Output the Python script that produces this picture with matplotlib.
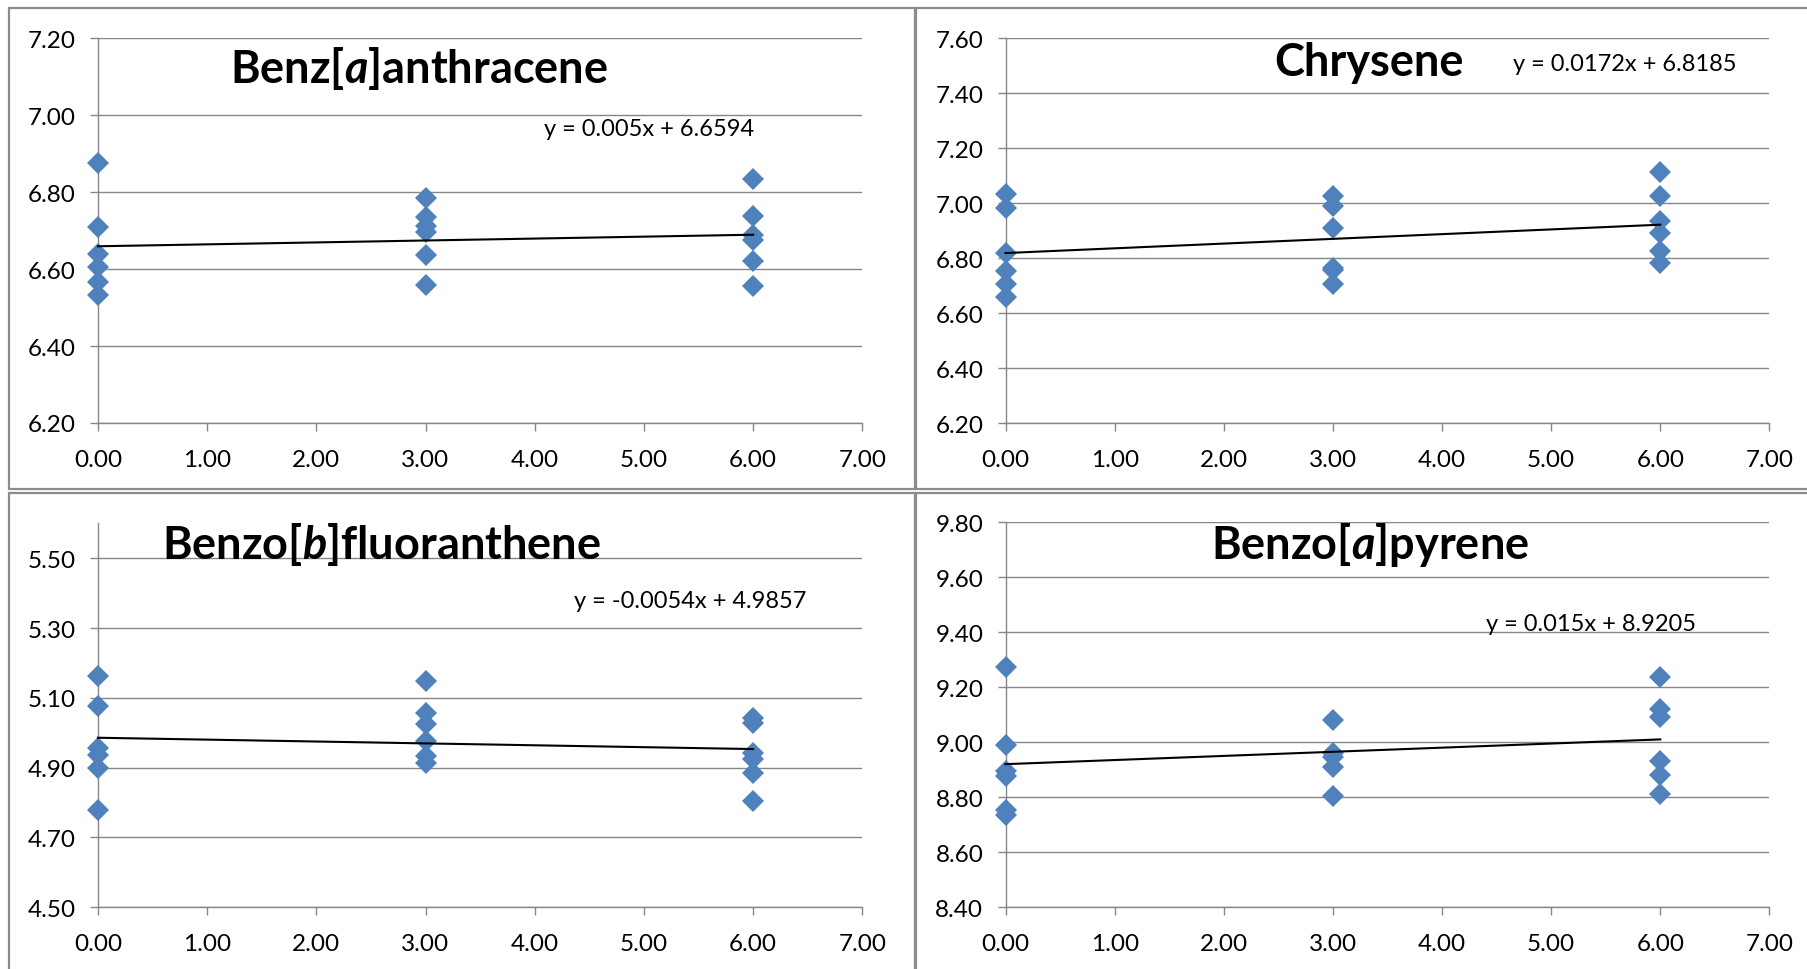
import matplotlib
matplotlib.use('Agg')
import matplotlib.pyplot as plt
from matplotlib.patches import Rectangle
from matplotlib.ticker import FormatStrFormatter
import numpy as np

time_points = [0.0, 3.0, 6.0]

benz_a_anthracene = [
    [6.876, 6.709, 6.639, 6.606, 6.567, 6.533],
    [6.784, 6.736, 6.713, 6.697, 6.637, 6.559],
    [6.833, 6.739, 6.688, 6.676, 6.622, 6.557],
]
chrysene = [
    [7.033, 6.982, 6.817, 6.753, 6.705, 6.660],
    [7.025, 6.989, 6.908, 6.765, 6.758, 6.706],
    [7.114, 7.026, 6.934, 6.890, 6.827, 6.782],
]
benzo_b_fluoranthene = [
    [5.164, 5.078, 4.956, 4.935, 4.900, 4.779],
    [5.149, 5.057, 5.024, 4.976, 4.933, 4.914],
    [5.042, 5.028, 4.943, 4.926, 4.884, 4.805],
]
benzo_a_pyrene = [
    [9.275, 8.990, 8.897, 8.879, 8.754, 8.736],
    [9.081, 8.962, 8.945, 8.912, 8.806],
    [9.239, 9.120, 9.091, 8.931, 8.881, 8.812],
]

titles = ['Benz[$a$]anthracene', 'Chrysene',
          'Benzo[$b$]fluoranthene', 'Benzo[$a$]pyrene']
slopes = [0.005, 0.0172, -0.0054, 0.015]
intercepts = [6.6594, 6.8185, 4.9857, 8.9205]
equations = ['y = 0.005x + 6.6594', 'y = 0.0172x + 6.8185',
             'y = -0.0054x + 4.9857', 'y = 0.015x + 8.9205']

W, H = 1807, 970
BLUE = '#4f81bd'
GRAY = '#868686'

plt.rcParams['font.family'] = ['Lato', 'DejaVu Sans']
plt.rcParams['mathtext.fontset'] = 'custom'
plt.rcParams['mathtext.it'] = 'Lato:italic:bold'
plt.rcParams['mathtext.rm'] = 'Lato:bold'
plt.rcParams['mathtext.bf'] = 'Lato:bold'


def fx(x):
    return x / W


def fy(y):
    return 1 - y / H


def box(left, right, top, bottom):
    return [fx(left), fy(bottom), (right - left) / W, (bottom - top) / H]


fig = plt.figure(figsize=(W / 100, H / 100), dpi=100)

# chart frames like the Excel chart areas
frames = [(8.6, 9.3, 915, 490), (915.7, 9.3, 1840, 490),
          (8.6, 494.3, 915, 1010), (915.7, 494.3, 1840, 1010)]
for l, t, r, b in frames:
    fig.patches.append(Rectangle((fx(l), fy(b)), (r - l) / W, (b - t) / H,
                                 transform=fig.transFigure, fill=False,
                                 edgecolor='#8c8c8c', linewidth=1.6, zorder=0))

# axes boxes in pixels, y limits, y ticks, title/eq positions
panels = [
    dict(data=benz_a_anthracene, box=(97.9, 862.3, 39.3, 424.0),
         ylim=(6.2, 7.2), yticks=np.arange(6.2, 7.21, 0.2),
         title_at=(419.5, 83.3), eq_at=(648.7, 136.0)),
    dict(data=chrysene, box=(1005.5, 1769.4, 39.3, 424.0),
         ylim=(6.2, 7.6), yticks=np.arange(6.2, 7.61, 0.2),
         title_at=(1368.7, 76.0), eq_at=(1624.4, 70.7)),
    dict(data=benzo_b_fluoranthene, box=(97.9, 862.3, 524.3, 908.3),
         ylim=(4.5, 5.6), yticks=np.arange(4.5, 5.51, 0.2),
         title_at=(381.5, 559.0), eq_at=(690.5, 608.3)),
    dict(data=benzo_a_pyrene, box=(1005.5, 1769.4, 523.3, 908.3),
         ylim=(8.4, 9.8), yticks=np.arange(8.4, 9.81, 0.2),
         title_at=(1369.6, 559.0), eq_at=(1591.4, 630.7)),
]

for i, p in enumerate(panels):
    ax = fig.add_axes(box(*p['box']))
    ax.set_facecolor('none')

    for t, vals in zip(time_points, p['data']):
        ax.plot([t] * len(vals), vals, linestyle='none', marker='D',
                markersize=11, markerfacecolor=BLUE, markeredgewidth=0,
                clip_on=False, zorder=3)

    xs = np.array([time_points[0], time_points[-1]])
    ax.plot(xs, slopes[i] * xs + intercepts[i], color='black',
            linewidth=1.5, zorder=4, clip_on=False)

    ax.set_xlim(0, 7)
    ax.set_ylim(*p['ylim'])
    ax.set_xticks(np.arange(0, 8, 1))
    ax.set_yticks(p['yticks'])
    ax.xaxis.set_major_formatter(FormatStrFormatter('%.2f'))
    ax.yaxis.set_major_formatter(FormatStrFormatter('%.2f'))

    for side in ['top', 'right']:
        ax.spines[side].set_visible(False)
    for side in ['left', 'bottom']:
        ax.spines[side].set_color(GRAY)
        ax.spines[side].set_linewidth(1.0)

    ax.grid(axis='y', color=GRAY, linewidth=1.0)
    ax.set_axisbelow(True)
    ax.tick_params(axis='both', direction='out', length=6, width=1.0,
                   color=GRAY, labelsize=17.5, labelcolor='black')
    ax.tick_params(axis='y', pad=10)
    ax.tick_params(axis='x', pad=12.5)

    tx, ty = p['title_at']
    fig.text(fx(tx), fy(ty), titles[i], fontsize=32.5, fontweight='bold',
             ha='center', va='baseline')
    ex, ey = p['eq_at']
    fig.text(fx(ex), fy(ey), equations[i], fontsize=17,
             ha='center', va='baseline')

fig.savefig('out.png', dpi=100, facecolor='white')
